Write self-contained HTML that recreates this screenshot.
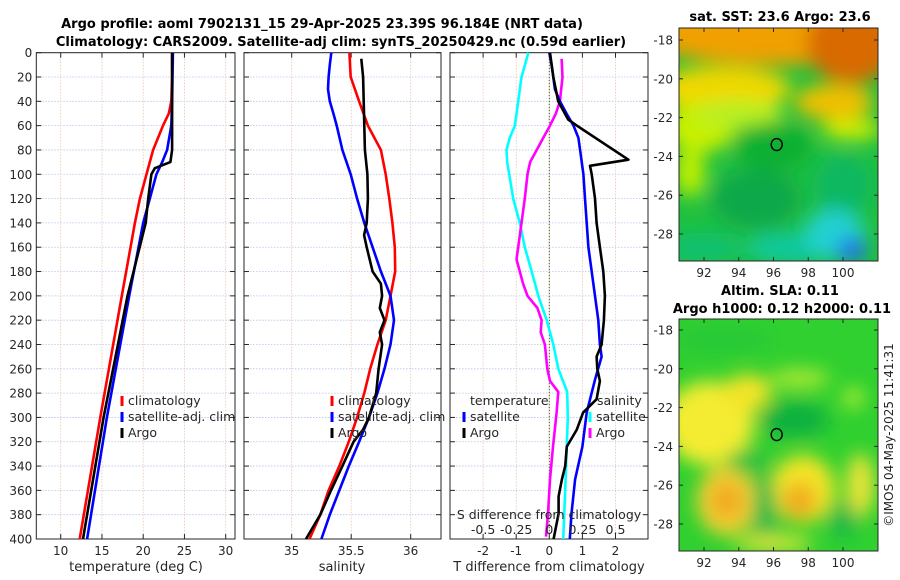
<!DOCTYPE html>
<html><head><meta charset="utf-8">
<style>
body{margin:0;background:#fff;}
svg{display:block;font-family:"DejaVu Sans","Liberation Sans",sans-serif;}
</style></head>
<body>
<svg id="fig" width="900" height="580" viewBox="0 0 900 580">
<defs>
<filter id="blur1" x="-50%" y="-50%" width="200%" height="200%"><feGaussianBlur stdDeviation="9"/></filter>
<clipPath id="cm1"><rect x="679" y="28" width="199" height="233"/></clipPath>
<clipPath id="cm2"><rect x="679" y="319" width="199" height="232"/></clipPath>
</defs>
<text x="322" y="28" text-anchor="middle" font-size="13" font-weight="bold" fill="#000">Argo profile: aoml 7902131_15 29-Apr-2025 23.39S 96.184E (NRT data)</text>
<text x="341" y="46" text-anchor="middle" font-size="13" font-weight="bold" fill="#000">Climatology: CARS2009. Satellite-adj clim: synTS_20250429.nc (0.59d earlier)</text>
<g id="plots"></g>
<text transform="translate(893,435) rotate(-90)" text-anchor="middle" font-size="12" fill="#262626">©IMOS 04-May-2025 11:41:31</text>
</svg>
<script>
// ---------- data ----------
const depthTicks=[0,20,40,60,80,100,120,140,160,180,200,220,240,260,280,300,320,340,360,380,400];
// Panel 1: temperature
const tClimDepth=[0,20,40,50,60,80,100,120,140,200,300,400];
const tClimVal=[23.5,23.5,23.4,23.1,22.4,21.2,20.4,19.6,19.0,17.4,14.8,12.3];
const tSatDepth=[0,40,60,80,90,100,120,140,200,300,400];
const tSatVal=[23.6,23.5,23.4,22.9,22.3,21.6,20.8,20.0,18.3,15.6,13.2];
const tArgoDepth=[0,80,90,95,100,120,140,200,300,400];
const tArgoVal=[23.5,23.5,23.3,21.4,21.0,20.6,20.3,18.1,15.2,12.7];
const tTicks=[10,15,20,25,30];
// Panel 2: salinity
const sClimDepth=[0,20,40,60,80,100,120,140,160,180,200,220,240,260,280,300,320,340,360,380,400];
const sClimVal=[35.485,35.496,35.566,35.64,35.75,35.79,35.82,35.846,35.866,35.87,35.83,35.79,35.72,35.66,35.61,35.55,35.48,35.40,35.31,35.24,35.15];
const sSatDepth=[0,10,20,30,40,50,60,80,100,120,140,160,180,200,220,240,260,280,300,320,340,360,380,400];
const sSatVal=[35.333,35.32,35.31,35.305,35.32,35.35,35.378,35.426,35.496,35.55,35.61,35.68,35.75,35.83,35.86,35.83,35.78,35.72,35.65,35.566,35.48,35.40,35.32,35.25];
const sArgoDepth=[5,20,40,60,80,100,120,140,150,160,180,190,200,210,220,230,240,260,280,300,310,320,340,360,380,400];
const sArgoVal=[35.585,35.6,35.605,35.61,35.615,35.636,35.64,35.63,35.608,35.63,35.68,35.75,35.76,35.74,35.78,35.74,35.76,35.73,35.71,35.65,35.6,35.52,35.426,35.33,35.24,35.12];
const sTicks=[35,35.5,36];
// Panel 3: differences
const dTSatDepth=[0,10,20,30,40,50,60,70,80,100,120,140,160,180,200,220,240,250,269,296,324,351,379,400];
const dTSatVal=[0,0.07,0.12,0.17,0.32,0.52,0.73,0.88,0.93,1.03,1.08,1.13,1.18,1.28,1.38,1.48,1.53,1.58,1.38,1.13,1.0,0.78,0.67,0.62];
const dTArgoDepth=[0,20,40,55,60,88,93,100,120,140,160,180,200,220,240,250,260,270,285,296,310,324,340,351,365,379,400];
const dTArgoVal=[0.02,0.12,0.27,0.57,0.83,2.39,1.23,1.28,1.38,1.43,1.53,1.63,1.68,1.65,1.58,1.43,1.45,1.53,1.43,1.02,0.83,0.53,0.48,0.38,0.28,0.28,0.13];
const dSSatDepth=[0,20,40,60,70,80,90,100,120,140,160,180,200,220,240,260,279,300,330,360,400];
const dSSatVal=[-0.158,-0.21,-0.235,-0.26,-0.298,-0.323,-0.318,-0.303,-0.273,-0.223,-0.185,-0.133,-0.083,-0.02,0.03,0.068,0.135,0.14,0.13,0.12,0.105];
const dSArgoDepth=[5,20,40,50,60,70,80,90,100,120,140,160,170,180,190,200,210,220,230,240,260,270,279,296,324,351,379,398];
const dSArgoVal=[0.093,0.1,0.08,0.05,0.005,-0.045,-0.095,-0.145,-0.165,-0.185,-0.21,-0.235,-0.248,-0.223,-0.198,-0.165,-0.09,-0.058,-0.065,-0.033,-0.015,0.005,0.068,0.055,0.028,0.005,-0.01,-0.025];
const dTTicks=[-2,-1,0,1,2];
const dSTicks=[-0.5,-0.25,0,0.25,0.5];
const dSTickLabels=["-0.5","-0.25","0","0.25","0.5"];
// Maps
const lonTicks=[92,94,96,98,100];
const latTicks=[-18,-20,-22,-24,-26,-28];
const floatLon=96.184, floatLat=-23.39;

// ---------- drawing ----------
const NS="http://www.w3.org/2000/svg";
const root=document.getElementById('plots');
function el(tag,attrs,parent,text){const e=document.createElementNS(NS,tag);for(const k in attrs)e.setAttribute(k,attrs[k]);if(text!==undefined)e.textContent=text;(parent||root).appendChild(e);return e;}
const TOP=52.7,BOT=539;
function yD(d){return TOP+(BOT-TOP)*d/400;}
function mkX(x0,x1,v0,v1){return v=>x0+(x1-x0)*(v-v0)/(v1-v0);}

function panel(name,x0,x1,xs,ticks,labels,yLabels){
  const g=el('g',{});
  
  
  depthTicks.forEach(d=>{el('line',{x1:x0,x2:x1,y1:yD(d),y2:yD(d),stroke:'#b8c4ea','stroke-width':0.8,'stroke-dasharray':'1.5,1.5'},g);});
  ticks.forEach(t=>{el('line',{x1:xs(t),x2:xs(t),y1:TOP,y2:BOT,stroke:'#e8c4b0','stroke-width':0.8,'stroke-dasharray':'1.5,1.5'},g);});
  el('rect',{x:x0,y:TOP,width:x1-x0,height:BOT-TOP,fill:'none',stroke:'#262626','stroke-width':1},g);
  depthTicks.forEach(d=>{el('line',{x1:x0,x2:x0+5,y1:yD(d),y2:yD(d),stroke:'#262626'},g);el('line',{x1:x1-5,x2:x1,y1:yD(d),y2:yD(d),stroke:'#262626'},g);
    if(yLabels){const t=el('text',{x:x0-4,y:yD(d)+4.5,'text-anchor':'end','font-size':12,fill:'#262626'},g,String(d));}});
  ticks.forEach((t,i)=>{el('line',{x1:xs(t),x2:xs(t),y1:BOT,y2:BOT-5,stroke:'#262626'},g);el('line',{x1:xs(t),x2:xs(t),y1:TOP,y2:TOP+5,stroke:'#262626'},g);
    if(labels){const tx=el('text',{x:xs(t),y:555,'text-anchor':'middle','font-size':12,fill:'#262626'},g,labels[i]);}});
  return g;
}
function line(g,name,depths,vals,xs,color,w){
  const pts=depths.map((d,i)=>xs(vals[i]).toFixed(1)+','+yD(d).toFixed(1)).join(' ');
  const p=el('polyline',{points:pts,fill:'none',stroke:color,'stroke-width':w||2.6,'stroke-linejoin':'round'},g);
  
  
}
function legendEntry(g,name,x,y,color,label){
  const r=el('g',{},g);
  
  
  el('line',{x1:x,x2:x,y1:y-9,y2:y+1,stroke:color,'stroke-width':3},r);
  el('text',{x:x+6,y:y,'font-size':12.5,fill:'#262626'},r,label);
}
// Panel 1
const xT=mkX(60.7,225.7,10,30);
const g1=panel('temperature-panel',36.3,235,xT,tTicks,tTicks.map(String),true);
line(g1,'temperature-climatology-line',tClimDepth,tClimVal,xT,'#ff0000');
line(g1,'temperature-satellite-line',tSatDepth,tSatVal,xT,'#0000ff');
line(g1,'temperature-argo-line',tArgoDepth,tArgoVal,xT,'#000000');
legendEntry(g1,'legend-climatology',122,405,'#ff0000','climatology');
legendEntry(g1,'legend-satellite-adj-clim',122,421,'#0000ff','satellite-adj. clim');
legendEntry(g1,'legend-argo',122,437,'#000000','Argo');
const xl1=el('text',{x:136,y:571,'text-anchor':'middle','font-size':13,fill:'#262626'},g1,'temperature (deg C)');

// Panel 2
const xS=mkX(291.7,410.7,35,36);
const g2=panel('salinity-panel',244,441,xS,sTicks,['35','35.5','36'],false);
line(g2,'salinity-climatology-line',sClimDepth,sClimVal,xS,'#ff0000');
line(g2,'salinity-satellite-line',sSatDepth,sSatVal,xS,'#0000ff');
line(g2,'salinity-argo-line',sArgoDepth,sArgoVal,xS,'#000000');
legendEntry(g2,'legend-climatology',332,405,'#ff0000','climatology');
legendEntry(g2,'legend-satellite-adj-clim',332,421,'#0000ff','satellite-adj. clim');
legendEntry(g2,'legend-argo',332,437,'#000000','Argo');
const xl2=el('text',{x:342,y:571,'text-anchor':'middle','font-size':13,fill:'#262626'},g2,'salinity');

// Panel 3
const xDT=mkX(549.3,615.5,0,2);
const xDS=v=>xDT(v*4);
const g3=panel('difference-panel',450,648,xDT,dTTicks,dTTicks.map(String),false);
el('line',{x1:xDT(0),x2:xDT(0),y1:TOP,y2:BOT,stroke:'#5a5a2a','stroke-width':1,'stroke-dasharray':'1.5,1.5'},g3);
line(g3,'s-diff-satellite-line',dSSatDepth,dSSatVal,xDS,'#00ffff');
line(g3,'s-diff-argo-line',dSArgoDepth,dSArgoVal,xDS,'#ff00ff');
line(g3,'t-diff-satellite-line',dTSatDepth,dTSatVal,xDT,'#0000ff');
line(g3,'t-diff-argo-line',dTArgoDepth,dTArgoVal,xDT,'#000000');
const lt=el('text',{x:470,y:405,'font-size':12.5,fill:'#262626'},g3,'temperature');
const ls=el('text',{x:597,y:405,'font-size':12.5,fill:'#262626'},g3,'salinity');
legendEntry(g3,'legend-t-satellite',464,421,'#0000ff','satellite');
legendEntry(g3,'legend-t-argo',464,437,'#000000','Argo');
legendEntry(g3,'legend-s-satellite',590,421,'#00ffff','satellite');
legendEntry(g3,'legend-s-argo',590,437,'#ff00ff','Argo');
const st=el('text',{x:549,y:519,'text-anchor':'middle','font-size':12.5,fill:'#262626'},g3,'S difference from climatology');

dSTicks.forEach((t,i)=>{const tx=el('text',{x:xDS(t),y:534,'text-anchor':'middle','font-size':12.5,fill:'#262626'},g3,dSTickLabels[i]);});
const xl3=el('text',{x:549,y:571,'text-anchor':'middle','font-size':13,fill:'#262626'},g3,'T difference from climatology');


// Maps
const lonX=mkX(704,843,92,100);
function mapPanel(name,y18,top,h,clip,bg,blobs,titles){
  const ly=lat=>y18+(-18-lat)*19.4;
  const g=el('g',{});
  
  
  const inner=el('g',{'clip-path':'url(#'+clip+')'},g);
  el('rect',{x:679,y:top,width:199,height:h,fill:bg},inner);
  const bg2=el('g',{filter:'url(#blur1)'},inner);
  blobs.forEach(b=>el('ellipse',{cx:lonX(b[0]),cy:ly(b[1]),rx:b[2],ry:b[3],fill:b[4]},bg2));
  el('rect',{x:679,y:top,width:199,height:h,fill:'none',stroke:'#262626','stroke-width':1},g);
  lonTicks.forEach(t=>{el('line',{x1:lonX(t),x2:lonX(t),y1:top+h,y2:top+h-4,stroke:'#262626'},g);el('line',{x1:lonX(t),x2:lonX(t),y1:top,y2:top+4,stroke:'#262626'},g);
    const tx=el('text',{x:lonX(t),y:top+h+16,'text-anchor':'middle','font-size':12,fill:'#262626'},g,String(t));});
  latTicks.forEach(t=>{el('line',{x1:679,x2:683,y1:ly(t),y2:ly(t),stroke:'#262626'},g);el('line',{x1:874,x2:878,y1:ly(t),y2:ly(t),stroke:'#262626'},g);
    const tx=el('text',{x:673,y:ly(t)+4.5,'text-anchor':'end','font-size':12,fill:'#262626'},g,String(t));});
  const c=el('ellipse',{cx:lonX(floatLon),cy:ly(floatLat),rx:5.5,ry:6,fill:'none',stroke:'#000','stroke-width':1.4},g);
  
  titles.forEach(tt=>{const tx=el('text',{x:tt[0],y:tt[1],'text-anchor':'middle','font-size':13,'font-weight':'bold',fill:'#000'},g,tt[2]);});
}
mapPanel('sst-map',40,28,233,'cm1','#20c040',[
 [96,-17,150,45,'#f0a000'],[100.5,-18.2,45,40,'#d86a00'],[93,-20.5,70,22,'#f0d800'],[99.5,-21.2,40,18,'#f0c000'],
 [91.8,-22.5,35,25,'#c8f000'],[94,-21.8,45,14,'#b8f020'],[100.5,-22.6,30,10,'#d8f000'],[91.2,-24.8,15,25,'#c0f000'],
 [96,-23.5,40,25,'#10b030'],[95,-26.2,45,30,'#10a848'],[100,-25.5,30,30,'#10b860'],[92,-28.7,40,15,'#10c070'],
 [97,-28.7,45,15,'#10c8a0'],[99.5,-28,30,25,'#20d0d0'],[100.5,-28.8,15,12,'#2070f0']
],[[780,21,'sat. SST: 23.6 Argo: 23.6']]);
mapPanel('sla-map',330,319,232,'cm2','#30d030',[
 [92.3,-22.8,45,42,'#f4ec30'],[94.5,-21.2,24,18,'#f4e428'],[93.3,-26.8,30,35,'#f4d030'],[93.3,-26.8,16,18,'#f0a820'],
 [97.7,-26.2,32,34,'#f4e428'],[97.5,-26.8,16,18,'#f0a820'],[97.5,-20.5,30,10,'#a8e830'],[101,-26,14,32,'#ece438'],
 [97.2,-22.6,35,18,'#10b040'],[95.5,-27.5,12,40,'#18b848'],[100,-27.8,14,18,'#18b848'],[93,-18.5,50,12,'#28c838'],
 [100.6,-21.5,10,10,'#b8f030'],[94.5,-24.8,22,12,'#20c040'],[96,-29,40,8,'#e8e838']
],[[780,295,'Altim. SLA: 0.11'],[782,313,'Argo h1000: 0.12 h2000: 0.11']]);
</script>
</body></html>
